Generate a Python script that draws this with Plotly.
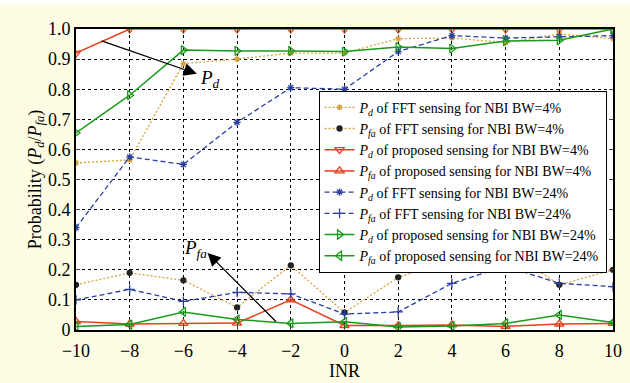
import plotly.graph_objects as go

inr = [-10, -8, -6, -4, -2, 0, 2, 4, 6, 8, 10]

pd_fft_4 = [0.555, 0.565, 0.885, 0.90, 0.92, 0.92, 0.968, 0.97, 0.955, 0.983, 0.968]
pfa_fft_4 = [0.15, 0.19, 0.165, 0.075, 0.215, 0.058, 0.175, 0.234, 0.27, 0.15, 0.20]
pd_prop_4 = [0.92, 1.0, 1.0, 1.0, 1.0, 1.0, 1.0, 1.0, 1.0, 1.0, 1.0]
pfa_prop_4 = [0.028, 0.02, 0.022, 0.023, 0.10, 0.015, 0.015, 0.017, 0.012, 0.02, 0.022]
pd_fft_24 = [0.34, 0.575, 0.55, 0.69, 0.805, 0.80, 0.925, 0.978, 0.97, 0.975, 0.978]
pfa_fft_24 = [0.10, 0.135, 0.095, 0.125, 0.12, 0.053, 0.06, 0.155, 0.212, 0.155, 0.144]
pd_prop_24 = [0.655, 0.78, 0.93, 0.927, 0.927, 0.925, 0.94, 0.935, 0.96, 0.963, 1.0]
pfa_prop_24 = [0.012, 0.018, 0.06, 0.035, 0.022, 0.027, 0.01, 0.013, 0.022, 0.05, 0.025]

ytickvals = [0, 0.1, 0.2, 0.3, 0.4, 0.5, 0.6, 0.7, 0.8, 0.9, 1.0]
yticktext = ["0", "0.1", "0.2", "0.3", "0.4", "0.5", "0.6", "0.7", "0.8", "0.9", "1.0"]
xticktext = ["\u221210", "\u22128", "\u22126", "\u22124", "\u22122", "0", "2", "4", "6", "8", "10"]

ORANGE = "#d9a03a"
RED = "#e8401c"
BLUE = "#2a3fa0"
GREEN = "#1a9a1a"

PD = "<i>P</i><sub><i>d</i></sub>"
PFA = "<i>P</i><sub><i>fa</i></sub>"

series = [
    (pd_fft_4, PD + " of FFT sensing for NBI BW=4%", ORANGE, "2px,2px", "asterisk-open", 5, ORANGE),
    (pfa_fft_4, PFA + " of FFT sensing for NBI BW=4%", ORANGE, "2px,2px", "circle", 5, "#222222"),
    (pd_prop_4, PD + " of proposed sensing for NBI BW=4%", RED, "solid", "triangle-down-open", 8, RED),
    (pfa_prop_4, PFA + " of proposed sensing for NBI BW=4%", RED, "solid", "triangle-up-open", 8, RED),
    (pd_fft_24, PD + " of FFT sensing for NBI BW=24%", BLUE, "5px,3px", "asterisk-open", 6, BLUE),
    (pfa_fft_24, PFA + " of FFT sensing for NBI BW=24%", BLUE, "5px,3px", "cross-thin-open", 7, BLUE),
    (pd_prop_24, PD + " of proposed sensing for NBI BW=24%", GREEN, "solid", "triangle-right-open", 8, GREEN),
    (pfa_prop_24, PFA + " of proposed sensing for NBI BW=24%", GREEN, "solid", "triangle-left-open", 8, GREEN),
]

fig = go.Figure()
for ys, name, col, dash, sym, msize, mcol in series:
    fig.add_trace(go.Scatter(
        x=inr, y=ys, name=name, mode="lines+markers",
        line=dict(color=col, dash=dash, width=1.5 if dash == "solid" else 1.3),
        marker=dict(symbol=sym, size=msize, color=mcol, line=dict(color=mcol, width=1.3)),
    ))

fig.update_layout(
    width=630, height=383,
    margin=dict(l=76, r=17, t=29, b=53, autoexpand=False),
    paper_bgcolor="#fefde4",
    plot_bgcolor="white",
    font=dict(family="Liberation Serif, Times New Roman, serif", size=16, color="black"),
    showlegend=True,
    legend=dict(
        x=0.988, y=0.795, xanchor="right", yanchor="top",
        bgcolor="white", bordercolor="black", borderwidth=1,
        font=dict(size=14), tracegroupgap=0, itemwidth=30,
    ),
    xaxis=dict(
        range=[-10, 10], tickvals=inr, ticktext=xticktext, automargin=False,
        showgrid=True, gridcolor="black", griddash="dot", gridwidth=1,
        showline=True, linecolor="black", linewidth=2, mirror="ticks",
        ticks="inside", ticklen=4, zeroline=False, ticklabelstandoff=3,
        title=dict(text="INR", font=dict(size=18), standoff=2),
        tickfont=dict(size=18),
    ),
    yaxis=dict(
        range=[0, 1.0], tickvals=ytickvals, ticktext=yticktext, automargin=False,
        showgrid=True, gridcolor="black", griddash="dot", gridwidth=1,
        showline=True, linecolor="black", linewidth=2, mirror="ticks",
        ticks="inside", ticklen=4, zeroline=False,
        title=dict(text="Probability (" + PD + "/" + PFA + ")", font=dict(size=18), standoff=2),
        tickfont=dict(size=18),
    ),
    shapes=[dict(type="rect", xref="paper", yref="paper", x0=-0.2, x1=1.1,
                 y0=1 + 25 / 301, y1=1 + 40 / 301, fillcolor="white", line=dict(width=0),
                 layer="below")],
    annotations=[
        dict(x=-5.5, y=0.851, ax=-9.1, ay=0.962, xref="x", yref="y", axref="x", ayref="y",
             text="", showarrow=True, arrowhead=2, arrowsize=2, arrowwidth=1.3, arrowcolor="black"),
        dict(x=-5.0, y=0.835, xref="x", yref="y", text=PD, showarrow=False,
             font=dict(size=19)),
        dict(x=-5.1, y=0.256, ax=-2.5, ay=0.023, xref="x", yref="y", axref="x", ayref="y",
             text="", showarrow=True, arrowhead=2, arrowsize=2, arrowwidth=1.3, arrowcolor="black"),
        dict(x=-5.55, y=0.27, xref="x", yref="y", text=PFA, showarrow=False,
             font=dict(size=19)),
    ],
)

fig.write_html("out.html")
